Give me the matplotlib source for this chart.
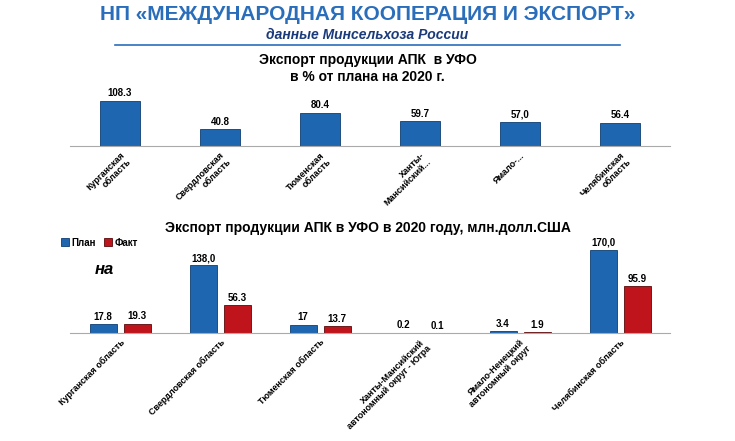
import matplotlib
matplotlib.use("Agg")
import matplotlib.pyplot as plt
import numpy as np

top_cats = ["Курганская\nобласть", "Свердловская\nобласть", "Тюменская\nобласть", "Ханты-\nМансийский...", "Ямало-...", "Челябинская\nобласть"]
top_vals = [108.3, 40.8, 80.4, 59.7, 57.0, 56.4]
top_labels = ["108.3", "40.8", "80.4", "59.7", "57,0", "56.4"]

bot_cats = ["Курганская область", "Свердловская область", "Тюменская область",
            "Ханты-Мансийский\nавтономный округ - Югра", "Ямало-Ненецкий\nавтономный округ", "Челябинская область"]
plan = [17.8, 138.0, 17, 0.2, 3.4, 170.0]
fact = [19.3, 56.3, 13.7, 0.1, 1.9, 95.9]
plan_labels = ["17.8", "138,0", "17", "0.2", "3.4", "170,0"]
fact_labels = ["19.3", "56.3", "13.7", "0.1", "1.9", "95.9"]

W, H = 735, 441
fig = plt.figure(figsize=(W/100, H/100), dpi=100)
fig.patch.set_facecolor("white")
blue = "#1f66b0"; red = "#c0141c"
plt.rcParams["font.family"] = "Liberation Sans"

fig.text(0.5, 1-14/H, "НП «МЕЖДУНАРОДНАЯ КООПЕРАЦИЯ И ЭКСПОРТ»", ha="center", va="center",
         fontsize=15, fontweight="bold", color="#2a6ebb")
fig.text(0.5, 1-35/H, "данные Минсельхоза России", ha="center", va="center",
         fontsize=10, fontweight="bold", style="italic", color="#1a3a7a")
fig.add_artist(plt.Line2D([115/W, 620/W], [1-45/H, 1-45/H], color="#2a6ebb", lw=1.2))
fig.text(0.5, 1-60/H, "Экспорт продукции АПК  в УФО", ha="center", va="center", fontsize=10, fontweight="bold")
fig.text(0.5, 1-77/H, "в % от плана на 2020 г.", ha="center", va="center", fontsize=10, fontweight="bold")

def mk(ax):
    for s in ["top", "right", "left"]:
        ax.spines[s].set_visible(False)
    ax.spines["bottom"].set_color("#aaaaaa")
    ax.set_yticks([])
    ax.tick_params(axis="x", length=0)

ax1 = fig.add_axes([70/W, 1-146/H, 600/W, 56/H])
x = np.arange(len(top_cats))
ax1.bar(x, top_vals, width=0.4, color=blue, edgecolor="#0d3d70", lw=0.6)
for xi, v, l in zip(x, top_vals, top_labels):
    ax1.text(xi, v + 6, l, ha="center", va="bottom", fontsize=7, fontweight="bold")
ax1.set_xlim(-0.5, 5.5); ax1.set_ylim(0, 134.7)
ax1.set_xticks(x); ax1.set_xticklabels(top_cats, rotation=45, ha="right", rotation_mode="anchor",
                                        fontsize=6.5, fontweight="bold", linespacing=1.0)
mk(ax1)

fig.text(0.5, 1-228/H, "Экспорт продукции АПК в УФО в 2020 году, млн.долл.США", ha="center", va="center",
         fontsize=10, fontweight="bold")

ax2 = fig.add_axes([70/W, 1-333/H, 600/W, 93/H])
w = 0.27
off = 0.17
ax2.bar(x - off, plan, width=w, color=blue, edgecolor="#0d3d70", lw=0.6, label="План")
ax2.bar(x + off, fact, width=w, color=red, edgecolor="#5a0a0a", lw=0.6, label="Факт")
for xi, p, f, pl, fl in zip(x, plan, fact, plan_labels, fact_labels):
    ax2.text(xi - off, p + 5, pl, ha="center", va="bottom", fontsize=7, fontweight="bold")
    ax2.text(xi + off, f + 5, fl, ha="center", va="bottom", fontsize=7, fontweight="bold")
ax2.set_xlim(-0.5, 5.5); ax2.set_ylim(0, 190)
ax2.set_xticks(x); ax2.set_xticklabels(bot_cats, rotation=45, ha="right", rotation_mode="anchor",
                                        fontsize=6.5, fontweight="bold", linespacing=1.0)
mk(ax2)
ax2.legend(loc="upper left", bbox_to_anchor=(-0.03, 1.12), ncol=2, frameon=False,
           handlelength=0.8, handleheight=0.8, columnspacing=0.8, handletextpad=0.3,
           prop={"weight": "bold", "size": 7})
fig.text(95/W, 1-270/H, "на", ha="left", va="center", fontsize=12, fontweight="bold", style="italic")

fig.savefig("out.png", dpi=100)
